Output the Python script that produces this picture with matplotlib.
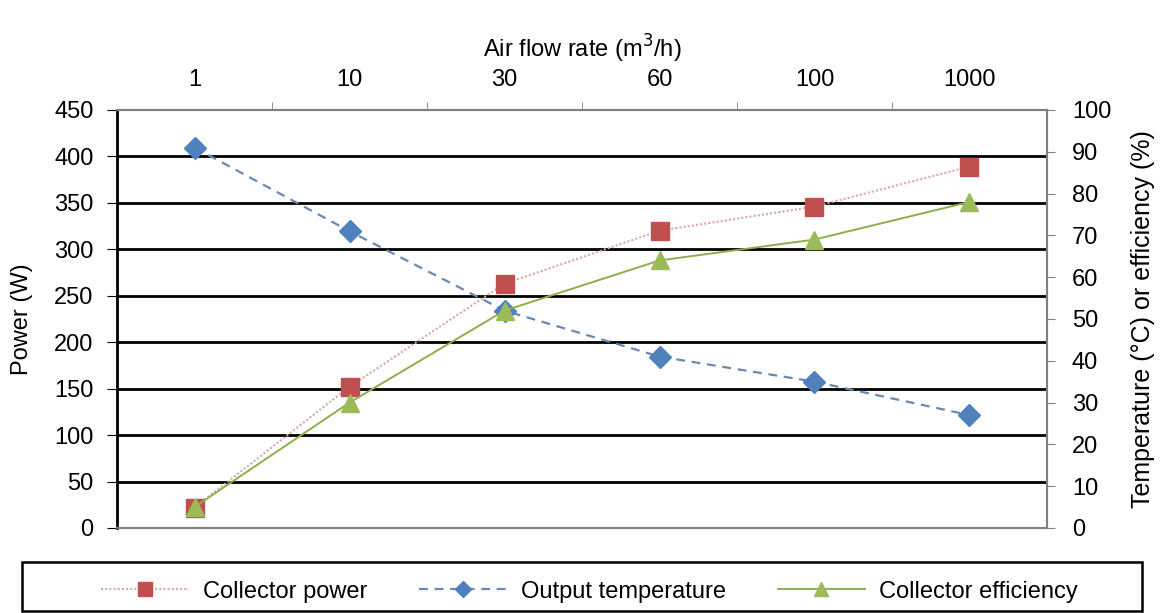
import matplotlib
matplotlib.use("Agg")
import matplotlib.pyplot as plt
from matplotlib.lines import Line2D
from matplotlib.patches import Rectangle

plt.rcParams['font.family'] = ['Liberation Sans', 'DejaVu Sans']

flow_labels = ["1", "10", "30", "60", "100", "1000"]
collector_power = [22, 152, 263, 320, 346, 389]          # W (left axis)
output_temperature = [91, 71, 52, 41, 35, 27]             # °C (right axis)
collector_efficiency = [5, 30, 52, 64, 69, 78]            # % (right axis)

red = "#C0504D"
blue = "#4F81BD"
green = "#9BBB59"
FS = 17

fig = plt.figure(figsize=(11.61, 6.13), dpi=100)
ax = fig.add_axes([0.1008, 0.1387, 0.8010, 0.6819])
ax2 = ax.twinx()

x = list(range(len(flow_labels)))

ax.plot(x, collector_power, linestyle=(0, (1, 1)), color="#D9A8A8", linewidth=1.5,
        marker="s", markersize=13, markerfacecolor=red, markeredgecolor=red, zorder=4)
ax2.plot(x, output_temperature, linestyle=(0, (4, 3)), color="#6A89B0", linewidth=1.6,
         marker="D", markersize=11, markerfacecolor=blue, markeredgecolor=blue, zorder=3)
ax2.plot(x, collector_efficiency, linestyle="-", color="#8FAE4A", linewidth=1.4,
         marker="^", markersize=13, markerfacecolor=green, markeredgecolor=green, zorder=5)

ax.set_xlim(-0.5, len(flow_labels) - 0.5)
ax.set_ylim(0, 450)
ax.set_yticks(range(0, 451, 50))
ax2.set_ylim(0, 100)
ax2.set_yticks(range(0, 101, 10))

for yv in range(50, 450, 50):
    ax.axhline(yv, color="black", linewidth=2.0, zorder=1)

ax.xaxis.tick_top()
ax.xaxis.set_label_position("top")
ax.set_xticks(x)
ax.set_xticklabels(flow_labels, fontsize=FS)
ax.set_xticks([i + 0.5 for i in range(len(flow_labels) - 1)], minor=True)
ax.tick_params(axis="x", which="major", length=0, pad=14)
ax.tick_params(axis="x", which="minor", length=6, color="#808080", direction="out")
ax.set_xlabel("Air flow rate (m$^{3}$/h)", fontsize=FS, labelpad=8)

ax.tick_params(axis="y", labelsize=FS, length=7, color="black", pad=10)
ax2.tick_params(axis="y", labelsize=FS, length=6, color="#808080", pad=12)
ax.set_ylabel("Power (W)", fontsize=FS, labelpad=15)
ax2.set_ylabel("Temperature (°C) or efficiency (%)", fontsize=FS + 1, labelpad=14)

for a in (ax, ax2):
    for s in a.spines.values():
        s.set_color("#808080")
        s.set_linewidth(1.5)
ax.spines["left"].set_color("black")
ax.spines["left"].set_linewidth(2)
ax2.spines["left"].set_visible(False)

handles = [
    Line2D([], [], linestyle=(0, (1, 1)), color="#D9A8A8", linewidth=1.5, marker="s",
           markersize=10, markerfacecolor=red, markeredgecolor=red),
    Line2D([], [], linestyle=(0, (4, 3)), color="#6A89B0", linewidth=1.6, marker="D",
           markersize=8, markerfacecolor=blue, markeredgecolor=blue),
    Line2D([], [], linestyle="-", color="#8FAE4A", linewidth=1.4, marker="^",
           markersize=10, markerfacecolor=green, markeredgecolor=green),
]
fig.legend(handles, ["Collector power", "Output temperature", "Collector efficiency"],
           loc="center", bbox_to_anchor=(0.508, 0.035), ncol=3, fontsize=FS,
           frameon=False, handlelength=3.7, handletextpad=0.6, columnspacing=2.2)
fig.patches.append(Rectangle((0.019, 0.004), 0.9645, 0.079, transform=fig.transFigure,
                             fill=False, edgecolor="black", linewidth=1.8))

fig.savefig("out.png", dpi=100)
